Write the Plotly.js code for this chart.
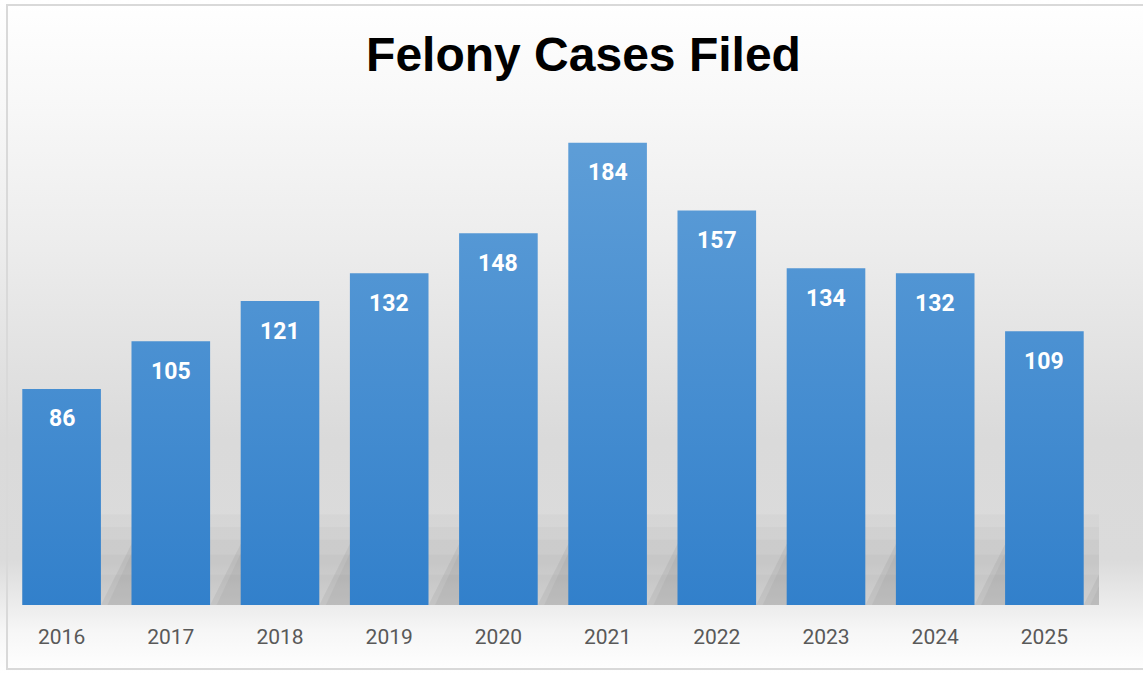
<!DOCTYPE html>
<html>
<head>
<meta charset="utf-8">
<script src="https://cdn.plot.ly/plotly-3.0.1.min.js"></script>
<style>
  html, body { margin: 0; padding: 0; background: #ffffff; }
  #wrap {
    position: relative; width: 1143px; height: 673px; overflow: hidden;
    background: linear-gradient(to bottom, #ffffff 0px, #f8f8f8 100px, #ececec 250px, #dadada 440px, #dbdbdb 560px, #ececec 605px, #f6f6f6 630px, #ffffff 673px);
  }
  #frame {
    position: absolute; left: 6px; top: 4px; width: 1150px; height: 666px;
    border: 2px solid #d9d9d9; box-sizing: border-box; pointer-events: none;
  }
  #chart { position: absolute; left: 0; top: 0; width: 1143px; height: 673px; }
</style>
</head>
<body>
<div id="wrap">
  <div id="chart"></div>
  <div id="frame"></div>
</div>
<script>
const years = ['2016', '2017', '2018', '2019', '2020', '2021', '2022', '2023', '2024', '2025'];
const cases = [86, 105, 121, 132, 148, 184, 157, 134, 132, 109];
const chartTitle = 'Felony Cases Filed';

const barGap = 0.28;
const halfW = (1 - barGap) / 2;

const trace = {
  type: 'bar',
  x: years,
  y: cases,
  marker: { color: '#4a8fd3', line: { width: 0 } },
  hoverinfo: 'x+y'
};

const annotations = years.map((yr, i) => ({
  x: i, y: cases[i], xref: 'x', yref: 'y',
  text: String(cases[i]), showarrow: false,
  yshift: -30,
  font: { family: 'Roboto, Arial, sans-serif', size: 23, color: '#ffffff', weight: 'bold' }
}));

// soft reflection band behind the bars (decorative)
const shapes = [];
[36, 31, 26, 20, 12].forEach(h => {
  shapes.push({
    type: 'rect', xref: 'x', yref: 'y', layer: 'below',
    x0: -halfW, x1: years.length, y0: 0, y1: h,
    fillcolor: 'rgba(120,120,120,0.055)', line: { width: 0 }
  });
});
years.forEach((yr, i) => {
  const r = i + halfW;
  [[0, 'rgba(100,100,100,0.10)'], [0.06, 'rgba(100,100,100,0.08)']].forEach(([off, c]) => {
    shapes.push({
      type: 'path', xref: 'x', yref: 'y', layer: 'below',
      path: `M ${r + off} 0 L ${r + barGap + 0.02} 0 L ${r + barGap + 0.02} ${26 - off * 60} Z`,
      fillcolor: c, line: { width: 0 }
    });
  });
});

const layout = {
  width: 1143, height: 673,
  margin: { l: 7, r: 44, t: 100, b: 68 },
  paper_bgcolor: 'rgba(0,0,0,0)',
  plot_bgcolor: 'rgba(0,0,0,0)',
  showlegend: false,
  bargap: barGap,
  title: {
    text: '<b>' + chartTitle + '</b>',
    x: 583.5 / 1143, xanchor: 'center', xref: 'container',
    y: 1 - 54 / 673, yanchor: 'middle', yref: 'container',
    font: { family: 'Liberation Sans, Arial, sans-serif', size: 48, color: '#000000' }
  },
  xaxis: {
    type: 'category',
    range: [-0.5, years.length - 0.5], autorange: false,
    showgrid: false, zeroline: false, showline: false,
    ticks: 'outside', ticklen: 13, tickcolor: 'rgba(0,0,0,0)',
    tickfont: { family: 'Roboto, Arial, sans-serif', size: 21, color: '#595959' }
  },
  yaxis: {
    range: [0, 201], autorange: false,
    showgrid: false, zeroline: false, showline: false, showticklabels: false, ticks: ''
  },
  shapes: shapes,
  annotations: annotations
};

Plotly.newPlot('chart', [trace], layout, { displayModeBar: false, staticPlot: true }).then(gd => {
  try {
    const svg = gd.querySelector('svg.main-svg');
    const ns = 'http://www.w3.org/2000/svg';
    let defs = svg.querySelector('defs');
    if (!defs) { defs = document.createElementNS(ns, 'defs'); svg.insertBefore(defs, svg.firstChild); }
    const h = gd._fullLayout._size.h;
    const grad = document.createElementNS(ns, 'linearGradient');
    grad.setAttribute('id', 'barGrad');
    grad.setAttribute('gradientUnits', 'userSpaceOnUse');
    grad.setAttribute('x1', '0'); grad.setAttribute('x2', '0');
    grad.setAttribute('y1', '0'); grad.setAttribute('y2', String(h));
    [['0', '#63a2da'], ['0.1', '#5d9dd7'], ['1', '#3280cb']].forEach(([o, c]) => {
      const s = document.createElementNS(ns, 'stop');
      s.setAttribute('offset', o); s.setAttribute('stop-color', c);
      grad.appendChild(s);
    });
    defs.appendChild(grad);
    gd.querySelectorAll('.bars path').forEach(p => { p.style.fill = 'url(#barGrad)'; });
  } catch (e) {}
});
</script>
</body>
</html>
